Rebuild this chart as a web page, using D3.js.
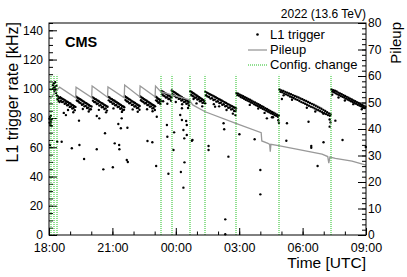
<!DOCTYPE html>
<html>
<head>
<meta charset="utf-8">
<script src="https://cdn.jsdelivr.net/npm/d3@7"></script>
<style>
  body { margin: 0; background: #fff; }
  svg { display: block; }
  text { font-family: "Liberation Sans", Arial, Helvetica, sans-serif; }
</style>
</head>
<body>
<svg id="chart" width="407" height="277"></svg>
<script>
// time values are hours after 18:00 UTC
var timeTickHours = [0, 3, 6, 9, 12, 15]
var timeTickLabels = ["18:00", "21:00", "00:00", "03:00", "06:00", "09:00"]
var rateTicks = [0, 20, 40, 60, 80, 100, 120, 140]
var pileupTicks = [0, 10, 20, 30, 40, 50, 60, 70, 80]

// config change markers
var configChanges = [0.118, 0.213, 0.355, 5.306, 5.803, 6.679, 7.390, 8.858, 10.895, 13.358]

// pileup [hour, pileup]
var pileup = [
  [0.05,51.5],[0.50,55.8],[1.26,51.8],[1.28,55.8],[2.02,51.9],[2.04,56.2],[2.77,52.0],[2.79,55.9],
  [3.56,51.8],[3.58,56.6],[4.29,52.2],[4.31,56.2],[5.02,52.2],[5.04,56.2],[5.30,54.0],[6.66,51.0],
  [6.68,50.5],[6.80,49.1],[7.39,46.5],[8.81,42.2],[10.04,38.6],[10.07,35.5],[10.36,34.6],[10.44,34.2],
  [10.47,31.4],[10.50,34.2],[10.86,33.7],[11.65,32.5],[12.92,30.5],[13.19,29.6],[13.24,27.1],[13.29,29.4],
  [13.55,28.9],[14.34,27.9],[15.0,26.4]
]

// L1 trigger rate [hour, kHz], main band
var l1Band = [
  // start of fill
  [0.02,79.5],[0.03,76.8],[0.05,80.8],[0.06,75.3],[0.07,78.2],[0.09,81.5],[0.10,77.0],[0.11,74.6],[0.12,79.0],
  [0.19,102.5],[0.21,100.4],[0.23,103.8],[0.25,98.6],[0.27,101.2],[0.29,104.5],[0.31,99.5],[0.33,97.2],[0.35,102.0],
  [0.37,95.4],[0.40,93.1],[0.42,94.8],[0.45,91.8],[0.48,93.6],[0.50,90.9],
  // tooth 1
  [0.53,94.2],[0.59,93.5],[0.65,93.0],[0.71,92.6],[0.77,92.0],[0.83,91.4],[0.89,91.0],[0.95,90.3],[1.01,89.9],[1.07,89.2],[1.13,88.8],[1.19,88.1],[1.25,87.6],
  [0.56,91.8],[0.62,90.9],[0.68,91.2],[0.74,89.8],[0.80,90.1],[0.86,88.7],[0.92,89.0],[0.98,87.6],[1.04,87.9],[1.10,86.5],[1.16,86.9],[1.22,85.4],
  [0.70,83.5],[0.80,82.0],[0.90,85.5],[1.15,84.0],
  // tooth 2
  [1.29,94.6],[1.35,93.9],[1.41,93.4],[1.47,92.8],[1.53,92.3],[1.59,91.6],[1.65,91.2],[1.71,90.5],[1.77,90.1],[1.83,89.4],[1.89,89.0],[1.95,88.3],[2.01,87.9],
  [1.32,92.0],[1.38,91.5],[1.44,90.6],[1.50,90.2],[1.56,89.1],[1.62,89.4],[1.68,88.0],[1.74,88.3],[1.80,86.9],[1.86,87.2],[1.92,85.8],[1.98,86.0],
  [1.60,86.2],[1.88,84.5],
  // tooth 3
  [2.05,94.3],[2.11,93.8],[2.17,93.1],[2.23,92.7],[2.29,92.0],[2.35,91.6],[2.41,90.9],[2.47,90.4],[2.53,89.9],[2.59,89.3],[2.65,88.8],[2.71,88.2],[2.77,87.7],
  [2.08,91.9],[2.14,91.0],[2.20,90.8],[2.26,89.6],[2.32,89.9],[2.38,88.5],[2.44,88.8],[2.50,87.4],[2.56,87.6],[2.62,86.2],[2.68,86.6],[2.74,85.1],
  [2.36,85.6],[2.70,83.9],
  // tooth 4
  [2.80,94.5],[2.86,94.0],[2.92,93.3],[2.98,92.9],[3.04,92.2],[3.10,91.8],[3.16,91.1],[3.22,90.6],[3.28,90.1],[3.34,89.4],[3.40,89.0],[3.46,88.3],[3.52,87.9],[3.56,87.4],
  [2.83,92.1],[2.89,91.2],[2.95,91.0],[3.01,89.8],[3.07,90.0],[3.13,88.7],[3.19,88.9],[3.25,87.5],[3.31,87.8],[3.37,86.4],[3.43,86.7],[3.49,85.3],[3.55,85.6],
  [3.05,86.6],[3.45,84.2],
  // tooth 5
  [3.59,94.9],[3.65,94.2],[3.71,93.7],[3.77,93.0],[3.83,92.6],[3.89,91.9],[3.95,91.4],[4.01,90.8],[4.07,90.3],[4.13,89.7],[4.19,89.1],[4.25,88.6],[4.29,88.2],
  [3.62,92.4],[3.68,91.5],[3.74,91.2],[3.80,90.1],[3.86,90.4],[3.92,89.0],[3.98,89.2],[4.04,87.9],[4.10,88.1],[4.16,86.8],[4.22,87.0],[4.28,85.7],
  [3.96,85.9],[4.20,84.3],
  // tooth 6
  [4.32,94.7],[4.38,94.1],[4.44,93.5],[4.50,92.9],[4.56,92.4],[4.62,91.8],[4.68,91.2],[4.74,90.7],[4.80,90.1],[4.86,89.5],[4.92,89.0],[4.98,88.4],[5.02,88.0],
  [4.35,92.2],[4.41,91.4],[4.47,91.0],[4.53,90.0],[4.59,90.3],[4.65,88.9],[4.71,89.1],[4.77,87.8],[4.83,88.0],[4.89,86.6],[4.95,86.9],[5.01,85.5],
  [4.64,86.0],[4.90,84.6],
  // tooth 7
  [5.05,94.6],[5.10,94.0],[5.15,93.4],[5.20,92.9],[5.25,92.3],[5.30,91.8],
  [5.07,92.1],[5.12,91.5],[5.17,90.4],[5.22,90.8],[5.27,89.6],
  // after config change
  [5.32,98.6],[5.38,98.0],[5.44,97.5],[5.50,96.9],[5.56,96.4],[5.62,95.8],[5.68,95.3],[5.74,94.7],[5.79,94.2],
  [5.35,96.2],[5.41,95.4],[5.47,95.0],[5.53,94.0],[5.59,94.2],[5.65,93.0],[5.71,93.1],[5.77,91.9],
  [5.40,91.5],[5.60,89.8],
  [5.81,98.8],[5.87,98.2],[5.93,97.7],[5.99,97.1],[6.05,96.5],[6.11,96.0],[6.17,95.3],[6.23,94.8],[6.29,94.2],[6.35,93.6],[6.41,93.1],[6.47,92.4],[6.53,91.9],[6.59,91.3],[6.65,90.8],
  [5.84,96.3],[5.90,95.6],[5.96,95.1],[6.02,94.2],[6.08,94.4],[6.14,93.1],[6.20,93.3],[6.26,92.0],[6.32,92.3],[6.38,90.9],[6.44,91.2],[6.50,89.8],[6.56,90.0],[6.62,88.6],
  [6.00,91.0],[6.30,89.4],[6.58,86.9],
  [6.69,98.4],[6.75,97.8],[6.81,97.2],[6.87,96.6],[6.93,96.0],[6.99,95.4],[7.05,94.8],[7.11,94.2],[7.17,93.6],[7.23,93.0],[7.29,92.4],[7.35,91.8],
  [6.72,96.0],[6.78,95.2],[6.84,94.8],[6.90,93.8],[6.96,94.0],[7.02,92.7],[7.08,92.9],[7.14,91.5],[7.20,91.8],[7.26,90.4],[7.32,90.6],
  [6.98,90.0],[7.25,88.0],
  [7.40,97.9],[7.47,97.4],[7.54,96.9],[7.61,96.3],[7.68,95.8],[7.75,95.3],[7.82,94.7],[7.89,94.2],[7.96,93.6],[8.03,93.1],[8.10,92.5],[8.17,92.0],[8.24,91.4],[8.31,90.9],[8.38,90.3],[8.45,89.7],[8.52,89.2],[8.59,88.6],[8.66,88.1],[8.73,87.5],[8.80,87.0],[8.85,86.6],
  [7.43,95.6],[7.50,94.8],[7.57,94.4],[7.64,93.3],[7.71,93.6],[7.78,92.3],[7.85,92.6],[7.92,91.2],[7.99,91.5],[8.06,90.2],[8.13,90.5],[8.20,89.1],[8.27,89.4],[8.34,88.1],[8.41,88.3],[8.48,87.0],[8.55,87.2],[8.62,85.9],[8.69,86.1],[8.76,84.8],[8.83,85.0],
  [7.80,89.5],[8.05,88.0],[8.40,85.5],[8.70,83.0],[8.82,82.0],
  [8.87,97.2],[8.95,96.7],[9.03,96.0],[9.11,95.5],[9.19,94.9],[9.27,94.3],[9.35,93.7],[9.43,93.1],[9.51,92.5],[9.59,91.8],[9.67,91.2],[9.75,90.6],[9.83,90.0],[9.91,89.4],[9.99,88.8],[10.07,88.1],[10.15,87.5],[10.23,86.8],[10.31,86.2],[10.39,85.5],[10.47,84.9],[10.55,84.2],[10.63,83.6],[10.71,83.0],[10.79,82.3],[10.87,81.7],
  [8.91,95.7],[8.99,95.3],[9.07,94.4],[9.15,93.9],[9.23,93.2],[9.31,92.5],[9.39,92.0],[9.47,91.4],[9.55,90.6],[9.63,90.2],[9.71,89.5],[9.79,88.8],[9.87,88.3],[9.95,87.7],[10.03,87.0],[10.11,86.3],[10.19,85.8],[10.27,85.1],[10.35,84.5],[10.43,84.0],[10.51,83.2],[10.59,82.7],[10.67,82.0],[10.75,81.5],[10.83,80.8],
  [9.50,89.0],[9.90,86.5],[10.20,83.5],[10.60,80.5],[10.85,78.5],[10.88,76.8],
  [10.91,99.5],[11.00,98.9],[11.09,98.6],[11.18,97.9],[11.27,97.4],[11.36,96.8],[11.45,96.3],[11.54,95.7],[11.63,95.1],[11.72,94.6],[11.81,94.0],[11.90,93.4],[11.99,92.8],[12.08,92.2],[12.17,91.6],[12.26,91.0],[12.35,90.3],[12.44,89.7],[12.53,89.1],[12.62,88.4],[12.71,87.7],[12.80,87.0],[12.89,86.3],[12.98,85.6],[13.07,84.8],[13.16,84.0],[13.25,83.2],[13.33,82.4],
  [10.95,98.0],[11.04,97.6],[11.13,96.7],[11.22,96.2],[11.31,95.5],[11.40,94.7],[11.49,94.2],[11.58,93.7],[11.67,92.9],[11.76,92.4],[11.85,91.7],[11.94,90.9],[12.03,90.4],[12.12,89.8],[12.21,89.1],[12.30,88.4],[12.39,87.8],[12.48,87.3],[12.57,86.6],[12.66,85.8],[12.75,85.3],[12.84,84.6],[12.93,84.0],[13.02,83.3],[13.11,82.7],[13.20,82.0],[13.29,81.5],
  [11.10,95.5],[11.50,92.5],[12.20,87.0],[12.60,84.5],[12.98,83.0],[13.28,79.0],[13.32,77.0],
  [13.37,99.6],[13.45,99.0],[13.53,98.7],[13.61,98.1],[13.69,97.4],[13.77,96.9],[13.85,96.3],[13.93,95.7],[14.01,95.1],[14.09,94.5],[14.17,93.9],[14.25,93.3],[14.33,92.7],[14.41,92.1],[14.49,91.5],[14.57,90.9],[14.65,90.3],[14.73,89.6],[14.81,89.0],[14.89,88.4],[14.97,87.7],
  [13.41,98.1],[13.49,97.6],[13.57,96.9],[13.65,96.2],[13.73,95.7],[13.81,95.0],[13.89,94.5],[13.97,94.0],[14.05,93.3],[14.13,92.7],[14.21,92.2],[14.29,91.5],[14.37,91.0],[14.45,90.5],[14.53,89.8],[14.61,89.1],[14.69,88.6],[14.77,88.1],[14.85,87.4],[14.93,86.8],
  [13.40,96.0],[13.70,94.0],[14.00,92.0],[14.40,89.5],[14.80,86.0]
]

// L1 trigger rate [hour, kHz], isolated points
var l1Outliers = [
  [0.05,61.6],[0.39,63.8],[0.60,63.8],[1.08,59.3],[1.44,61.6],[1.42,78.2],[1.66,52.0],[2.26,58.6],[2.26,81.4],
  [2.38,79.8],[2.57,44.9],[2.65,69.6],[3.02,46.3],[3.11,62.7],[3.28,75.9],[3.32,61.6],[3.33,58.6],[3.40,73.0],
  [3.44,79.8],[3.68,51.3],[3.71,73.4],[3.73,49.9],[4.66,64.3],[4.89,63.4],[5.07,47.2],[5.10,80.9],[5.58,75.2],
  [5.60,67.2],[5.65,41.9],[5.89,58.1],[5.92,70.2],[6.21,82.1],[6.24,43.1],[6.29,86.7],[6.29,78.7],[6.36,71.8],
  [6.36,32.4],[6.40,66.1],[6.41,49.7],[6.49,78.0],[6.52,68.4],[6.52,75.2],[6.76,64.5],[6.79,65.0],[6.84,93.0],
  [7.39,90.1],[7.55,60.9],[7.55,58.1],[7.86,87.8],[8.26,76.4],[8.29,72.3],[8.34,10.7],[8.34,0.5],[8.49,53.6],
  [9.01,68.9],[9.73,65.5],[10.00,44.5],[10.00,27.8],[10.31,79.8],[10.55,80.5],[11.02,93.0],[11.23,64.5],
  [11.26,76.4],[12.28,77.5],[12.41,60.9],[12.41,59.7],[12.71,47.2],[12.99,63.4],[13.28,74.1],[13.55,78.2],
  [13.89,65.0],[14.99,60.2]
]

var startUTC = Date.UTC(2022, 9, 1, 18, 0)
function toDate(h){ return new Date(startUTC + h * 3600000) }

var svg = d3.select("#chart"),
  margin = {top: 23, right: 41, bottom: 42, left: 49},
  width = +svg.attr("width") - margin.left - margin.right,
  height = +svg.attr("height") - margin.top - margin.bottom;

var x = d3.scaleUtc().domain([toDate(0), toDate(15)]).range([0, width]),
  yRate = d3.scaleLinear().domain([0, 145]).range([height, 0]),
  yPu = d3.scaleLinear().domain([0, 80]).range([height, 0]);

var g = svg.append("g").attr("transform", "translate(" + margin.left + "," + margin.top + ")");

// minor ticks
g.append("g").attr("transform", "translate(0," + height + ")")
  .call(d3.axisBottom(x).ticks(d3.utcHour.every(1)).tickFormat("").tickSizeInner(-3.5).tickSizeOuter(0))
g.append("g")
  .call(d3.axisLeft(yRate).tickValues(d3.range(0, 146, 5)).tickFormat("").tickSizeInner(-4).tickSizeOuter(0))
g.append("g").attr("transform", "translate(" + width + ",0)")
  .call(d3.axisRight(yPu).tickValues(d3.range(0, 81, 2)).tickFormat("").tickSizeInner(-4).tickSizeOuter(0))

// major ticks + labels
g.append("g").attr("class", "axis").attr("transform", "translate(0," + height + ")")
  .call(d3.axisBottom(x).tickValues(timeTickHours.map(toDate))
    .tickFormat(function(d, i){ return timeTickLabels[i] })
    .tickSizeInner(-7).tickSizeOuter(0).tickPadding(8.5))
  .selectAll("text").attr("font-size", 12.5)
g.append("g").attr("class", "axis")
  .call(d3.axisLeft(yRate).tickValues(rateTicks).tickSizeInner(-8).tickSizeOuter(0).tickPadding(6))
  .selectAll("text").attr("font-size", 12)
g.append("g").attr("class", "axis").attr("transform", "translate(" + width + ",0)")
  .call(d3.axisRight(yPu).tickValues(pileupTicks).tickSizeInner(-8).tickSizeOuter(0).tickPadding(2))
  .selectAll("text").attr("font-size", 12)

g.selectAll(".domain").remove()
g.selectAll(".axis text").attr("font-family", "Liberation Sans, Arial, sans-serif").attr("fill", "#000")

// L1 rate points
g.append("g").selectAll("circle")
  .data(l1Band.concat(l1Outliers))
  .enter().append("circle")
  .attr("cx", d => x(toDate(d[0])))
  .attr("cy", d => yRate(d[1]))
  .attr("r", 1.2)
  .attr("fill", "#000")

// pileup
g.append("path")
  .datum(pileup)
  .attr("fill", "none")
  .attr("stroke", "#999")
  .attr("stroke-width", 1.3)
  .attr("d", d3.line().x(d => x(toDate(d[0]))).y(d => yPu(d[1])))

// config changes
g.append("g").selectAll("line")
  .data(configChanges)
  .enter().append("line")
  .attr("x1", d => Math.round(x(toDate(d)))).attr("x2", d => Math.round(x(toDate(d))))
  .attr("y1", yRate(0)).attr("y2", yRate(109.5))
  .attr("stroke", "#22c022")
  .attr("stroke-width", 1)
  .attr("stroke-dasharray", "1,1")

// frame
g.append("rect").attr("x", 0).attr("y", 0).attr("width", width).attr("height", height)
  .attr("fill", "none").attr("stroke", "#000").attr("stroke-width", 1)

// titles
svg.append("text").attr("transform", "translate(18,22) rotate(-90)")
  .attr("text-anchor", "end").attr("font-size", 16).text("L1 trigger rate [kHz]")
svg.append("text").attr("transform", "translate(401,22) rotate(-90)")
  .attr("text-anchor", "end").attr("font-size", 15).text("Pileup")
svg.append("text").attr("x", 366).attr("y", 268)
  .attr("text-anchor", "end").attr("font-size", 15.5).text("Time [UTC]")
svg.append("text").attr("x", 366).attr("y", 17.5)
  .attr("text-anchor", "end").attr("font-size", 12).text("2022 (13.6 TeV)")
svg.append("text").attr("x", 65).attr("y", 47.3)
  .attr("font-size", 14.5).attr("font-weight", "bold").text("CMS")

// legend
var legend = svg.append("g")
legend.append("circle").attr("cx", 257.5).attr("cy", 34.5).attr("r", 1.3).attr("fill", "#000")
legend.append("line").attr("x1", 248).attr("x2", 267).attr("y1", 50).attr("y2", 50)
  .attr("stroke", "#999").attr("stroke-width", 1.3)
legend.append("line").attr("x1", 248).attr("x2", 267).attr("y1", 65).attr("y2", 65)
  .attr("stroke", "#22c022").attr("stroke-width", 1).attr("stroke-dasharray", "1,1")
legend.append("text").attr("x", 270).attr("y", 38.8).attr("font-size", 13).text("L1 trigger")
legend.append("text").attr("x", 270).attr("y", 54).attr("font-size", 13).text("Pileup")
legend.append("text").attr("x", 270).attr("y", 69.3).attr("font-size", 13).text("Config. change")
</script>
</body>
</html>
